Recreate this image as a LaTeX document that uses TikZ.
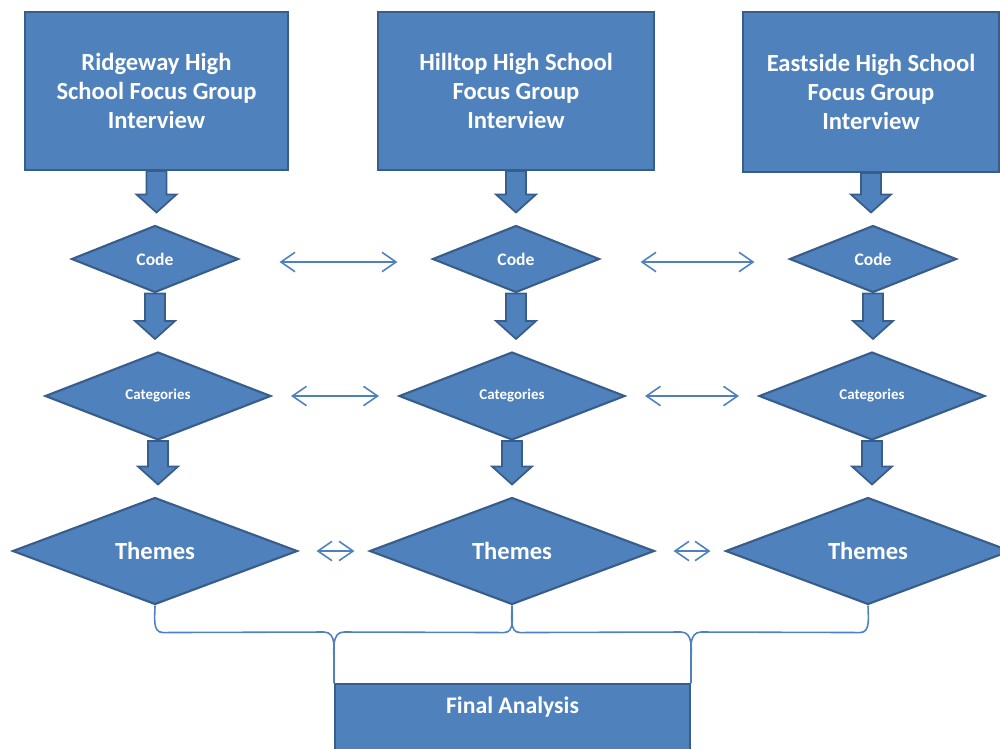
\documentclass[tikz,border=0pt]{standalone}
\usepackage{fontspec}
\setmainfont{Carlito}
\usetikzlibrary{arrows.meta,shapes.geometric,calc}
\definecolor{boxblue}{HTML}{4F81BD}
\definecolor{edgeblue}{HTML}{385D8A}
\tikzset{
  schoolbox/.style={rectangle, draw=edgeblue, fill=boxblue, line width=1.2pt, text=white,
    font=\fontsize{14}{16.5}\selectfont\bfseries, align=center},
  stepdiamond/.style={diamond, draw=edgeblue, fill=boxblue, line width=1.2pt, text=white,
    inner sep=0pt},
  blockarrow/.style={draw=edgeblue, fill=boxblue, line width=1pt,
    to path={let \p1=(\tikztostart), \p2=(\tikztotarget) in
      (\x1-0.2cm,\y1) -- (\x1-0.2cm,\y2+0.6cm) -- (\x1-0.4cm,\y2+0.6cm) -- (\x1,\y2+0.24cm)
      -- (\x1+0.4cm,\y2+0.6cm) -- (\x1+0.2cm,\y2+0.6cm) -- (\x1+0.2cm,\y1) -- cycle}},
  linkarrow/.style={{Straight Barb[length=8pt,width=11pt]}-{Straight Barb[length=8pt,width=11pt]},
    draw=boxblue, line width=0.9pt},
  bracket/.style={draw=boxblue, line width=0.9pt}
}

\begin{document}
\begin{tikzpicture}[x=0.02cm,y=-0.02cm]

        \clip (0,0) rectangle (1000,748);

        % --- Focus group boxes ---
        \node[schoolbox, minimum width=5.26cm, minimum height=3.16cm] (ridge) at (156.5,91) {Ridgeway High\\School Focus Group\\Interview};
        \node[schoolbox, minimum width=5.52cm, minimum height=3.16cm] (hill) at (516,91) {Hilltop High School\\Focus Group\\Interview};
        \node[schoolbox, minimum width=5.12cm, minimum height=3.2cm] (east) at (871,92) {Eastside High School\\Focus Group\\Interview};

        % --- Code ---
        \node[stepdiamond, minimum width=3.34cm, minimum height=1.34cm, font=\fontsize{10}{12}\selectfont\bfseries] (codeR) at (155,259) {Code};
        \node[stepdiamond, minimum width=3.34cm, minimum height=1.34cm, font=\fontsize{10}{12}\selectfont\bfseries] (codeH) at (516,259) {Code};
        \node[stepdiamond, minimum width=3.34cm, minimum height=1.34cm, font=\fontsize{10}{12}\selectfont\bfseries] (codeE) at (873,259) {Code};

        % --- Categories ---
        \node[stepdiamond, minimum width=4.52cm, minimum height=1.76cm, font=\fontsize{8.5}{10}\selectfont\bfseries] (catR) at (158,396) {Categories};
        \node[stepdiamond, minimum width=4.52cm, minimum height=1.76cm, font=\fontsize{8.5}{10}\selectfont\bfseries] (catH) at (512,396) {Categories};
        \node[stepdiamond, minimum width=4.52cm, minimum height=1.76cm, font=\fontsize{8.5}{10}\selectfont\bfseries] (catE) at (872,396) {Categories};

        % --- Themes ---
        \node[stepdiamond, minimum width=5.7cm, minimum height=2.14cm, font=\fontsize{14}{16}\selectfont\bfseries] (themeR) at (155,551) {Themes};
        \node[stepdiamond, minimum width=5.7cm, minimum height=2.14cm, font=\fontsize{14}{16}\selectfont\bfseries] (themeH) at (512,551) {Themes};
        \node[stepdiamond, minimum width=5.7cm, minimum height=2.14cm, font=\fontsize{14}{16}\selectfont\bfseries] (themeE) at (868,551) {Themes};

        % --- Final analysis ---
        \node[schoolbox, anchor=north, minimum width=7.1cm, text height=10pt, text depth=3cm, inner ysep=7pt,
          font=\fontsize{13.5}{16}\selectfont\bfseries] (final) at (512.5,683) {Final Analysis};

        % Block arrows down each column
        \draw[blockarrow] (ridge.south) to (codeR.north);
        \draw[blockarrow] (hill.south) to (codeH.north);
        \draw[blockarrow] (east.south) to (codeE.north);
        \draw[blockarrow] (codeR.south) to (catR.north);
        \draw[blockarrow] (codeH.south) to (catH.north);
        \draw[blockarrow] (codeE.south) to (catE.north);
        \draw[blockarrow] (catR.south) to (themeR.north);
        \draw[blockarrow] (catH.south) to (themeH.north);
        \draw[blockarrow] (catE.south) to (themeE.north);

        % Comparison arrows between columns
        \draw[linkarrow, shorten <=0.8cm, shorten >=0.68cm] ($(codeR.east)+(0,3)$) -- ($(codeH.west)+(0,3)$);
        \draw[linkarrow, shorten <=0.8cm, shorten >=0.68cm] ($(codeH.east)+(0,3)$) -- ($(codeE.west)+(0,3)$);
        \draw[linkarrow, shorten <=0.38cm, shorten >=0.38cm] (catR.east) -- (catH.west);
        \draw[linkarrow, shorten <=0.38cm, shorten >=0.38cm] (catH.east) -- (catE.west);
        \draw[linkarrow, shorten <=0.36cm, shorten >=0.28cm] (themeR.east) -- (themeH.west);
        \draw[linkarrow, shorten <=0.36cm, shorten >=0.28cm] (themeH.east) -- (themeE.west);

        % Brackets into the final analysis
        \draw[bracket] (themeR.south) to[out=-90,in=180] ($(themeR.south)+(8,27)$)
          -- ($(final.north west)+(-10,-51)$) to[out=0,in=90] ($(final.north west)+(0,-20)$) -- (final.north west);
        \draw[bracket] (final.north west) -- ++(0,-20) to[out=90,in=180] ($(final.north west)+(10,-51)$)
          -- ($(themeH.south)+(-8,27)$) to[out=0,in=-90] (themeH.south);
        \draw[bracket] (themeH.south) to[out=-90,in=180] ($(themeH.south)+(8,27)$)
          -- ($(final.north east)+(-10,-51)$) to[out=0,in=90] ($(final.north east)+(0,-20)$) -- (final.north east);
        \draw[bracket] (final.north east) -- ++(0,-20) to[out=90,in=180] ($(final.north east)+(10,-51)$)
          -- ($(themeE.south)+(-8,27)$) to[out=0,in=-90] (themeE.south);

\end{tikzpicture}
\end{document}
